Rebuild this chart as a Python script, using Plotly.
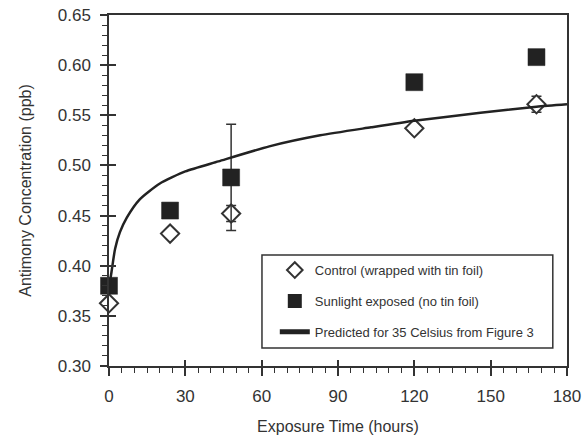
import plotly.graph_objects as go

# ---- data ----
hours = [0, 24, 48, 120, 168]
control = [0.3625, 0.432, 0.452, 0.537, 0.561]
control_err = [0.004, 0.0, 0.008, 0.0, 0.008]
sunlight = [0.380, 0.455, 0.488, 0.583, 0.608]
sunlight_err = [0.0, 0.0, 0.053, 0.0, 0.0]

pred_hours = [0, 1, 2.4, 4.3, 7, 12, 20, 30, 43, 63, 83, 103, 120, 146, 168, 180]
pred_conc = [0.378, 0.394, 0.417, 0.4335, 0.448, 0.466, 0.482, 0.494, 0.504,
             0.519, 0.530, 0.538, 0.5445, 0.5525, 0.5585, 0.561]

x_ticks = [0, 30, 60, 90, 120, 150, 180]
y_ticks = [0.30, 0.35, 0.40, 0.45, 0.50, 0.55, 0.60, 0.65]
y_ticklabels = ["0.30", "0.35", "0.40", "0.45", "0.50", "0.55", "0.60", "0.65"]

names = ["Control (wrapped with tin foil)",
         "Sunlight exposed (no tin foil)",
         "Predicted for 35 Celsius from Figure 3"]

FONT = "Liberation Sans, Arial, sans-serif"
INK = "#222222"
TXT = "#333333"

fig = go.Figure()

fig.add_trace(go.Scatter(
    x=hours, y=control, mode="markers", name=names[0], legendgroup="a",
    marker=dict(symbol="diamond", size=14, color="white",
                line=dict(color="#333333", width=2)),
    error_y=dict(type="data", array=control_err, visible=True,
                 color="#333333", thickness=1.5, width=5),
    cliponaxis=False,
))
fig.add_trace(go.Scatter(
    x=hours, y=sunlight, mode="markers", name=names[1], legendgroup="b",
    marker=dict(symbol="square", size=17, color=INK,
                line=dict(color=INK, width=0.5)),
    error_y=dict(type="data", array=sunlight_err, visible=True,
                 color="#333333", thickness=1.5, width=5),
    cliponaxis=False,
))
fig.add_trace(go.Scatter(
    x=pred_hours, y=pred_conc, mode="lines", name=names[2], legendgroup="c",
    line=dict(color=INK, width=2.5, shape="spline", smoothing=0.6),
    xaxis="x2", yaxis="y2",
))

common_x = dict(range=[0, 180], tickvals=x_ticks, showgrid=False, zeroline=False,
                automargin=False)
common_y = dict(range=[0.30, 0.65], tickvals=y_ticks, showgrid=False, zeroline=False,
                automargin=False)

# legend frame (paper coordinates of the plot area)
fig.add_shape(type="rect", xref="paper", yref="paper",
              x0=0.334, x1=0.969, y0=0.051, y1=0.316,
              line=dict(color="#333", width=1.5), fillcolor="white", layer="above")

fig.update_layout(
    width=583, height=438,
    margin=dict(l=109, r=16, t=15, b=72, autoexpand=False),
    paper_bgcolor="white", plot_bgcolor="white",
    font=dict(family=FONT, color=TXT),
    showlegend=True,
    xaxis=dict(
        **common_x,
        ticks="outside", ticklen=8, tickwidth=1.5, tickcolor="#333",
        showline=True, linecolor="#333", linewidth=1.5, mirror=True,
        tickfont=dict(size=17, color=TXT), ticklabelstandoff=6,
        minor=dict(dtick=5, ticks="outside", ticklen=5, tickwidth=1.2, tickcolor="#333"),
        title=dict(text="Exposure Time (hours)", font=dict(size=16, color=TXT), standoff=16),
    ),
    yaxis=dict(
        **common_y,
        ticktext=y_ticklabels,
        ticks="outside", ticklen=7, tickwidth=1.5, tickcolor="#333",
        showline=True, linecolor="#333", linewidth=1.5, mirror=True,
        tickfont=dict(size=17, color=TXT), ticklabelstandoff=6,
        minor=dict(dtick=0.01, ticks="outside", ticklen=5, tickwidth=1.2, tickcolor="#333"),
        title=dict(text="Antimony Concentration (ppb)", font=dict(size=16, color=TXT), standoff=22),
    ),
    xaxis2=dict(
        **common_x, overlaying="x", anchor="y2", side="bottom",
        ticks="inside", ticklen=6, tickwidth=1.5, tickcolor="#333",
        showticklabels=False, showline=False,
    ),
    yaxis2=dict(
        **common_y, overlaying="y", anchor="x2", side="left",
        ticks="inside", ticklen=7, tickwidth=1.5, tickcolor="#333",
        showticklabels=False, showline=False,
    ),
    legend=dict(
        x=0.362, y=0.316, xanchor="left", yanchor="top",
        bgcolor="rgba(0,0,0,0)", borderwidth=0,
        font=dict(size=13, color=TXT),
        tracegroupgap=11,
        itemsizing="constant",
    ),
)

fig.write_html("out.html", config={"displayModeBar": False},
               post_script="document.body.style.margin='0';document.body.style.overflow='hidden';")
